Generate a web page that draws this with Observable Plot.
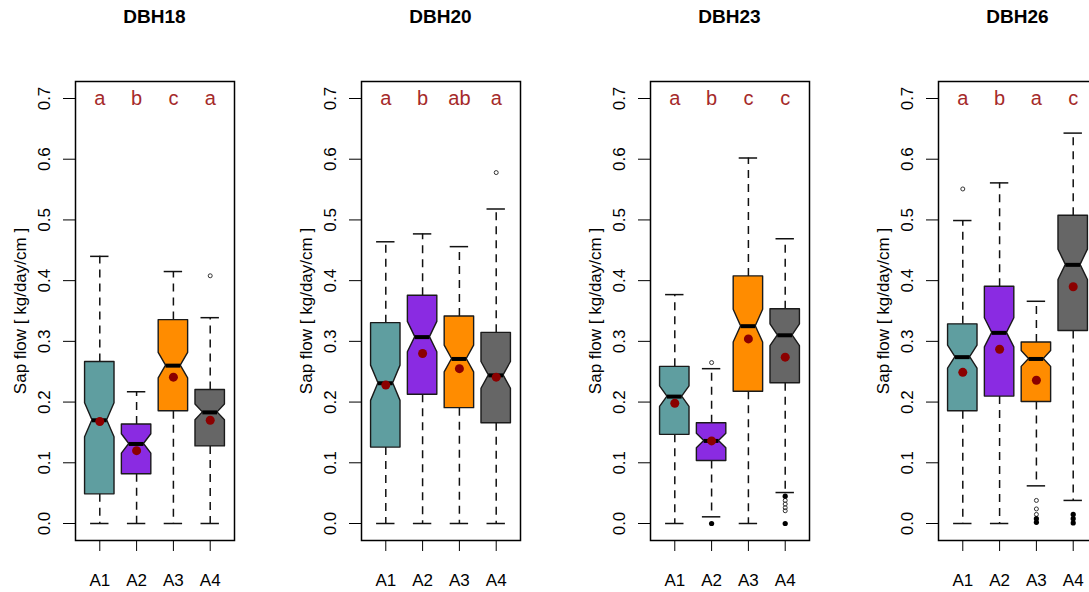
<!DOCTYPE html>
<html><head><meta charset="utf-8">
<script src="https://cdn.jsdelivr.net/npm/d3@7"></script>
<script src="https://cdn.jsdelivr.net/npm/@observablehq/plot@0.6"></script>
<style>
body{margin:0;background:#fff;overflow:hidden}
#root{position:relative;width:1089px;height:592px;overflow:hidden;background:#fff}
.panel{position:absolute;top:0;width:288px;height:592px}
.title{position:absolute;top:6px;height:28px;line-height:28px;text-align:center;font:bold 19px "Liberation Sans",Arial,sans-serif;color:#000}
.panel svg{position:absolute;top:40px;left:0}
</style></head><body><div id="root"></div>
<script>
const panels = ["DBH18", "DBH20", "DBH23", "DBH26"];
const groups = ["A1", "A2", "A3", "A4"];
const colors = ["#5F9EA0", "#8A2BE2", "#FF8C00", "#666666"];
const yTicks = [0, 0.1, 0.2, 0.3, 0.4, 0.5, 0.6, 0.7];
const yLabel = "Sap flow [ kg/day/cm ]";

// per panel (DBH18, DBH20, DBH23, DBH26), per group (A1..A4)
const whiskerLow  = [[0, 0, 0, 0], [0, 0, 0, 0], [0, 0.011, 0, 0.051], [0, 0, 0.062, 0.038]];
const q1          = [[0.048, 0.081, 0.185, 0.127], [0.125, 0.212, 0.190, 0.165], [0.146, 0.103, 0.217, 0.231], [0.185, 0.209, 0.200, 0.317]];
const notchLow    = [[0.142, 0.115, 0.239, 0.170], [0.202, 0.282, 0.249, 0.222], [0.192, 0.124, 0.298, 0.292], [0.255, 0.290, 0.258, 0.401]];
const median      = [[0.170, 0.131, 0.260, 0.183], [0.231, 0.307, 0.271, 0.244], [0.209, 0.136, 0.325, 0.310], [0.274, 0.314, 0.271, 0.426]];
const notchHigh   = [[0.198, 0.147, 0.281, 0.196], [0.260, 0.332, 0.293, 0.266], [0.226, 0.148, 0.352, 0.328], [0.293, 0.338, 0.284, 0.451]];
const q3          = [[0.266, 0.163, 0.335, 0.220], [0.330, 0.375, 0.341, 0.314], [0.258, 0.165, 0.407, 0.353], [0.328, 0.390, 0.298, 0.507]];
const whiskerHigh = [[0.440, 0.217, 0.415, 0.339], [0.464, 0.477, 0.456, 0.518], [0.377, 0.255, 0.602, 0.469], [0.499, 0.561, 0.366, 0.643]];
const means       = [[0.168, 0.120, 0.241, 0.170], [0.228, 0.280, 0.255, 0.241], [0.198, 0.136, 0.304, 0.274], [0.249, 0.287, 0.236, 0.390]];
// isolated outliers (open circles)
const outliers = [
  [[], [], [], [0.408]],
  [[], [], [], [0.578]],
  [[], [0.265], [], [0.038, 0.032, 0.026, 0.021]],
  [[0.551], [], [0.038, 0.024, 0.015], []]
];
// heavily overplotted outliers (appear as solid dots)
const outliersDense = [
  [[], [], [], []],
  [[], [], [], []],
  [[], [0.0], [], [0.045, 0.0]],
  [[], [], [0.008, 0.002], [0.015, 0.008, 0.001]]
];
const letters = [["a", "b", "c", "a"], ["a", "b", "ab", "a"], ["a", "b", "c", "c"], ["a", "b", "a", "c"]];

const frameLeft = [75, 361, 650, 938];
const W = 0.4, NW = 0.5, STAPLE = 0.25;
const font = '"Liberation Sans", Arial, sans-serif';
const root = document.getElementById("root");

panels.forEach((name, p) => {
  const boxes = groups.map((g, i) => ({
    i: i + 1, g, color: colors[i], letter: letters[p][i],
    lo: whiskerLow[p][i], q1: q1[p][i], nl: notchLow[p][i], med: median[p][i],
    nh: notchHigh[p][i], q3: q3[p][i], hi: whiskerHigh[p][i], mean: means[p][i]
  }));
  const outline = boxes.flatMap(b => [
    {i: b.i, color: b.color, y: b.q1, x1: b.i - W, x2: b.i + W},
    {i: b.i, color: b.color, y: b.nl, x1: b.i - W, x2: b.i + W},
    {i: b.i, color: b.color, y: b.med, x1: b.i - W * NW, x2: b.i + W * NW},
    {i: b.i, color: b.color, y: b.nh, x1: b.i - W, x2: b.i + W},
    {i: b.i, color: b.color, y: b.q3, x1: b.i - W, x2: b.i + W}
  ]);
  const outs = boxes.flatMap(b => outliers[p][b.i - 1].map(v => ({i: b.i, v})));
  const dense = boxes.flatMap(b => outliersDense[p][b.i - 1].map(v => ({i: b.i, v})));

  const chart = Plot.plot({
    width: 288, height: 552,
    marginLeft: 75, marginRight: 54, marginTop: 41, marginBottom: 52,
    style: {fontFamily: font, fontSize: "17px", color: "#000", background: "transparent", overflow: "visible"},
    color: {type: "identity"},
    x: {type: "linear", domain: [0.34, 4.66], ticks: [1, 2, 3, 4], tickFormat: d => groups[d - 1], tickSize: 11, tickPadding: 22, label: null},
    y: {domain: [-0.028, 0.728], ticks: yTicks, tickFormat: d => d.toFixed(1), tickSize: 12, tickPadding: 14, tickRotate: -90, label: null},
    marks: [
      Plot.ruleX(boxes, {x: "i", y1: "q3", y2: "hi", stroke: "#111", strokeWidth: 1.5, strokeDasharray: "8,6"}),
      Plot.ruleX(boxes, {x: "i", y1: "q1", y2: "lo", stroke: "#111", strokeWidth: 1.5, strokeDasharray: "8,6"}),
      Plot.ruleY(boxes, {y: "hi", x1: d => d.i - STAPLE, x2: d => d.i + STAPLE, stroke: "#111", strokeWidth: 1.5}),
      Plot.ruleY(boxes, {y: "lo", x1: d => d.i - STAPLE, x2: d => d.i + STAPLE, stroke: "#111", strokeWidth: 1.5}),
      Plot.areaX(outline, {y: "y", x1: "x1", x2: "x2", z: "i", fill: "color", stroke: "#1a1a1a", strokeWidth: 1.4}),
      Plot.ruleY(boxes, {y: "med", x1: d => d.i - W * NW, x2: d => d.i + W * NW, stroke: "#000", strokeWidth: 4}),
      Plot.dot(outs, {x: "i", y: "v", r: 2, stroke: "#333", strokeWidth: 1, fill: "none"}),
      Plot.dot(dense, {x: "i", y: "v", r: 2.6, fill: "#000", stroke: "none"}),
      Plot.dot(boxes, {x: "i", y: "mean", r: 4.5, fill: "#8B0000", stroke: "none"}),
      Plot.text(boxes, {x: "i", y: () => yTicks[yTicks.length - 1], text: "letter", fill: "#A52A2A", fontSize: 20}),
      Plot.text([yLabel], {frameAnchor: "left", textAnchor: "middle", text: d => d, rotate: -90, dx: -55, fontSize: 17, fill: "#000"}),
      Plot.frame({stroke: "#000", strokeWidth: 1.5})
    ]
  });

  const panel = document.createElement("div");
  panel.className = "panel";
  panel.style.left = (frameLeft[p] - 75) + "px";
  const title = document.createElement("div");
  title.className = "title";
  title.style.left = "75px";
  title.style.width = "159px";
  title.textContent = name;
  panel.appendChild(title);
  panel.appendChild(chart);
  root.appendChild(panel);
});
</script></body></html>
